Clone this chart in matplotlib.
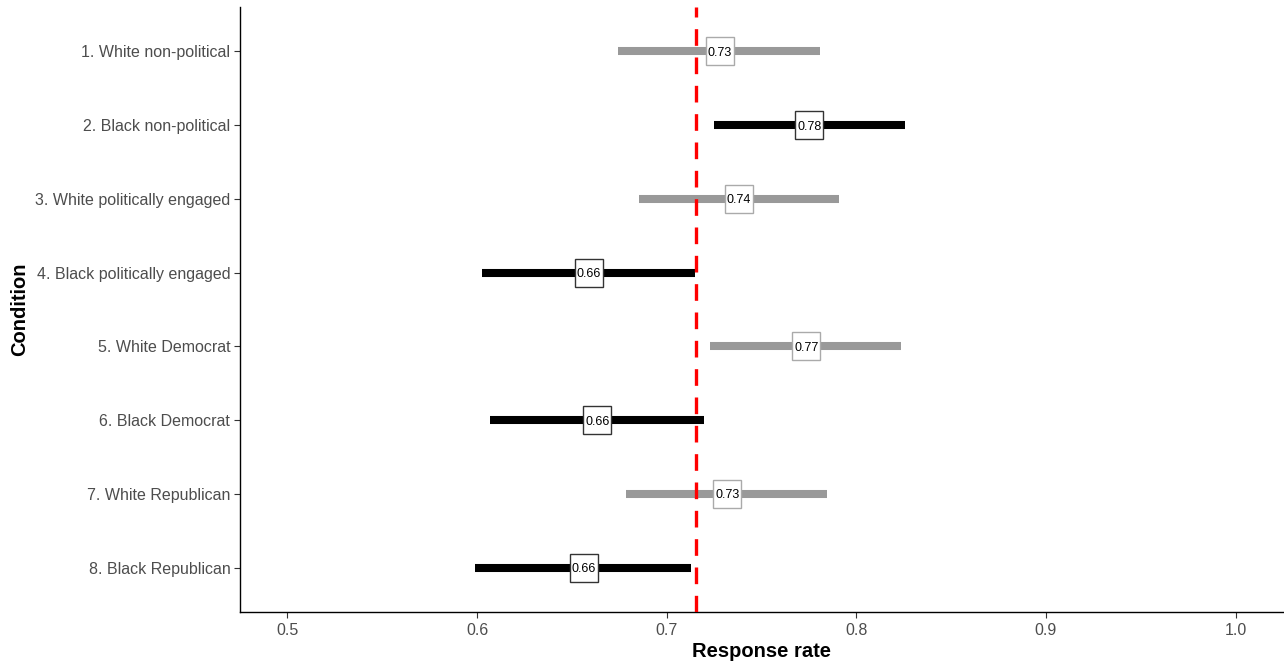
import matplotlib
matplotlib.use('Agg')
import matplotlib.pyplot as plt

plt.rcParams['font.family'] = ['Liberation Sans', 'DejaVu Sans']

# conditions, top to bottom
conditions = ['1. White non-political', '2. Black non-political',
              '3. White politically engaged', '4. Black politically engaged',
              '5. White Democrat', '6. Black Democrat',
              '7. White Republican', '8. Black Republican']
est = [0.728, 0.7752, 0.738, 0.659, 0.7737, 0.6634, 0.7319, 0.6562]
lo = [0.6745, 0.7249, 0.6854, 0.6028, 0.7231, 0.6068, 0.6786, 0.5989]
hi = [0.7807, 0.8255, 0.7909, 0.7151, 0.8237, 0.7196, 0.7847, 0.7128]
race = ['White', 'Black', 'White', 'Black', 'White', 'Black', 'White', 'Black']
overall = 0.7154

bar_col = {'White': '#999999', 'Black': '#000000'}
edge_col = {'White': '#aaaaaa', 'Black': '#333333'}

fig = plt.figure(figsize=(12.84, 6.64), dpi=100)
ax = fig.add_axes([240 / 1284, 52 / 664, 1043 / 1284, 605 / 664])

for i, c in enumerate(conditions):
    ax.hlines(i, lo[i], hi[i], color=bar_col[race[i]], linewidth=5.8, zorder=2)

ax.axvline(overall, color='#ff0000', linewidth=2.4, linestyle=(0, (5, 3.5)), zorder=3)

for i, c in enumerate(conditions):
    ax.plot(est[i], i, marker='s', markersize=20.5, markerfacecolor='white',
            markeredgecolor=edge_col[race[i]], markeredgewidth=1.0, zorder=4)
    ax.text(est[i], i, f'{est[i]:.2f}', ha='center', va='center_baseline',
            fontsize=9, color='black', zorder=5)

ax.set_xlim(0.475, 1.025)
ax.set_ylim(len(conditions) - 1 + 0.6, -0.6)
ax.set_xticks([0.5, 0.6, 0.7, 0.8, 0.9, 1.0])
ax.set_xticklabels(['0.5', '0.6', '0.7', '0.8', '0.9', '1.0'])
ax.set_yticks(range(len(conditions)))
ax.set_yticklabels(conditions)

for s in ['top', 'right']:
    ax.spines[s].set_visible(False)
for s in ['left', 'bottom']:
    ax.spines[s].set_linewidth(1.0)
    ax.spines[s].set_color('black')

ax.tick_params(axis='both', colors='#333333', labelcolor='#4d4d4d',
               labelsize=11.5, length=4, width=0.8)
ax.tick_params(axis='x', pad=4)
ax.tick_params(axis='y', pad=3)

ax.set_xlabel('Response rate', fontsize=14.5, fontweight='bold', labelpad=3)
ax.set_ylabel('Condition', fontsize=14.5, fontweight='bold')
ax.yaxis.set_label_coords(-0.202, 0.5)

fig.savefig('out.png', dpi=100)
